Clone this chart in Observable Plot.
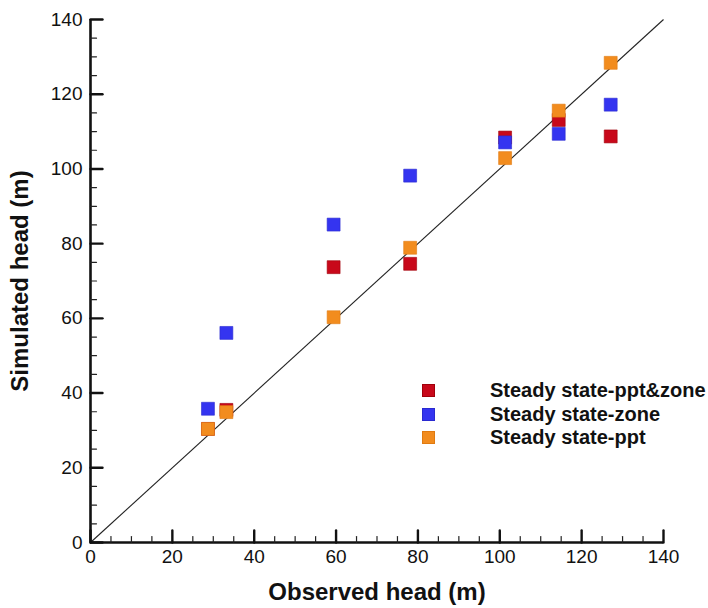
<!DOCTYPE html>
<html>
<head>
<meta charset="utf-8">
<script src="https://cdn.jsdelivr.net/npm/d3@7"></script>
<script src="https://cdn.jsdelivr.net/npm/@observablehq/plot@0.6"></script>
<style>
  html, body { margin: 0; padding: 0; background: #fff; }
  #chart { position: relative; width: 708px; height: 608px; font-family: "Liberation Sans", Arial, sans-serif; }
  .legend { position: absolute; left: 422px; top: 379px; }
  .legend .row { display: flex; align-items: center; height: 23.5px; }
  .legend .sw { width: 13px; height: 13px; box-sizing: border-box; }
  .legend .lab { margin-left: 55px; font-weight: bold; font-size: 20px; color: #111; white-space: nowrap; }
</style>
</head>
<body>
<div id="chart"></div>
<script>
// Observed heads at the monitoring wells (m)
const observed = [28.7, 33.2, 59.4, 78.1, 101.3, 114.4, 127.1];
// Simulated heads for each steady-state calibration (m)
const pptZone = [30.4, 35.5, 73.7, 74.6, 108.4, 113.1, 108.7];
const zone    = [35.8, 56.1, 85.1, 98.2, 107.1, 109.4, 117.2];
const ppt     = [30.4, 34.9, 60.3, 78.9, 102.9, 115.6, 128.4];

const seriesNames = ["Steady state-ppt&zone", "Steady state-zone", "Steady state-ppt"];
const seriesColors = ["#c8081a", "#3434f0", "#f28c1e"];
const seriesStrokes = ["#a0000a", "#2a2ad0", "#e07a10"];

const domain = [0, 140];
const majorTicks = d3.range(0, 141, 20);
const minorTicks = d3.range(0, 141, 5).filter(v => v % 20 !== 0);

// long-format rows, drawn in series order
const rows = [];
[pptZone, zone, ppt].forEach((vals, s) => {
  vals.forEach((v, i) => rows.push({series: seriesNames[s], observed: observed[i], simulated: v}));
});

// tick shapes drawn from the axis line inward
const tickShape = {draw(ctx, l) { ctx.moveTo(0, 0); ctx.lineTo(0, -l); }};

const font = "Liberation Sans, Arial, sans-serif";

const chart = Plot.plot({
  width: 708,
  height: 608,
  marginLeft: 90,
  marginRight: 45,
  marginTop: 19,
  marginBottom: 66,
  style: {fontFamily: font, fontSize: "19px", color: "#111", background: "white"},
  x: {domain, type: "linear"},
  y: {domain, type: "linear"},
  color: {domain: seriesNames, range: seriesColors},
  marks: [
    // 1:1 line
    Plot.link([domain], {x1: d => d[0], y1: d => d[0], x2: d => d[1], y2: d => d[1], stroke: "#222", strokeWidth: 1.1}),
    // points
    Plot.dot(rows, {
      x: "observed", y: "simulated", fill: "series", symbol: "square", r: 7.3,
      stroke: d => seriesStrokes[seriesNames.indexOf(d.series)], strokeWidth: 0.6
    }),
    // axis lines
    Plot.ruleY([domain[0]], {stroke: "#111", strokeWidth: 2.6}),
    Plot.ruleX([domain[0]], {stroke: "#111", strokeWidth: 2.6}),
    // inward ticks
    Plot.vector(majorTicks, {x: d => d, frameAnchor: "bottom", length: 12, anchor: "start", shape: tickShape, stroke: "#111", strokeWidth: 2.4}),
    Plot.vector(minorTicks, {x: d => d, frameAnchor: "bottom", length: 6, anchor: "start", shape: tickShape, stroke: "#222", strokeWidth: 1.2}),
    Plot.vector(majorTicks, {y: d => d, frameAnchor: "left", length: 12, rotate: 90, anchor: "start", shape: tickShape, stroke: "#111", strokeWidth: 2.4}),
    Plot.vector(minorTicks, {y: d => d, frameAnchor: "left", length: 6, rotate: 90, anchor: "start", shape: tickShape, stroke: "#222", strokeWidth: 1.2}),
    // tick labels
    Plot.axisX({ticks: majorTicks, tickSize: 0, tickPadding: 7, label: null, tickFormat: d => String(d), fontSize: 19}),
    Plot.axisY({ticks: majorTicks, tickSize: 0, tickPadding: 8, label: null, tickFormat: d => String(d), fontSize: 19}),
    // axis titles
    Plot.text(["Observed head (m)"], {frameAnchor: "bottom", textAnchor: "middle", lineAnchor: "middle", dy: 50, fontWeight: "bold", fontSize: 24, fill: "#111"}),
    Plot.text(["Simulated head (m)"], {frameAnchor: "left", textAnchor: "middle", lineAnchor: "middle", dx: -70, rotate: -90, fontWeight: "bold", fontSize: 24, fill: "#111"})
  ]
});

const root = document.getElementById("chart");
root.appendChild(chart);

// legend placed inside the plot area
const legend = document.createElement("div");
legend.className = "legend";
seriesNames.forEach((name, i) => {
  const row = document.createElement("div");
  row.className = "row";
  const sw = document.createElement("div");
  sw.className = "sw";
  sw.style.background = seriesColors[i];
  sw.style.border = `0.6px solid ${seriesStrokes[i]}`;
  const lab = document.createElement("div");
  lab.className = "lab";
  lab.textContent = name;
  row.appendChild(sw);
  row.appendChild(lab);
  legend.appendChild(row);
});
root.appendChild(legend);
</script>
</body>
</html>
